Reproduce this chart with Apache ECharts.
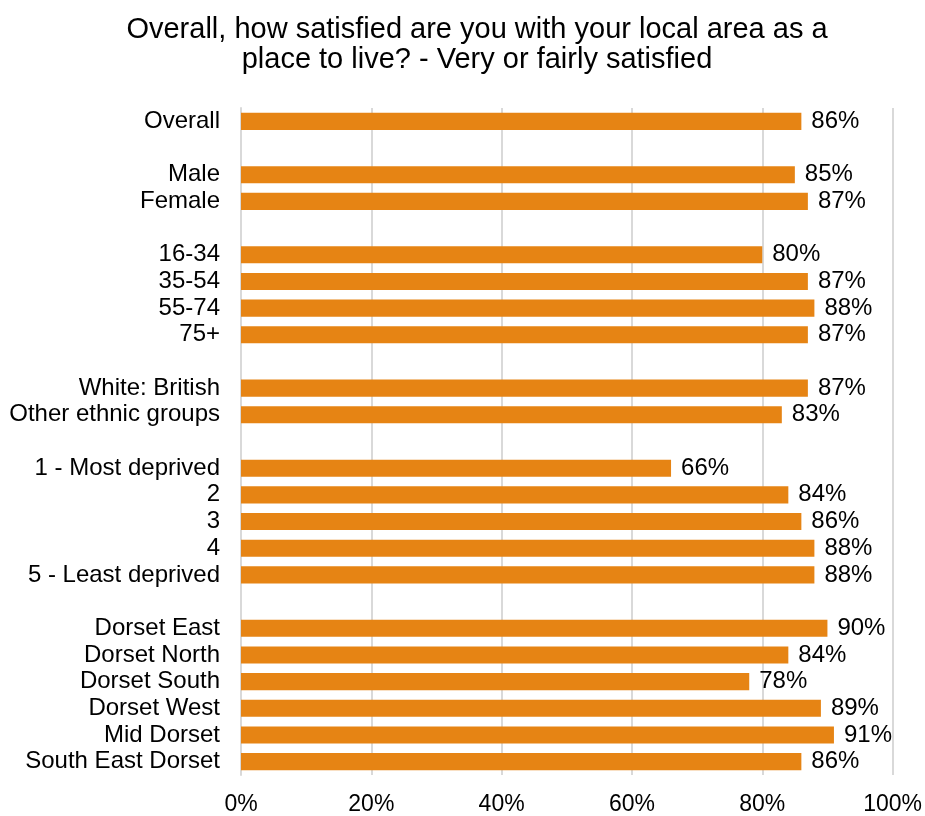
<!DOCTYPE html>
<html>
<head>
<meta charset="utf-8">
<script src="https://cdn.jsdelivr.net/npm/echarts@6/dist/echarts.min.js"></script>
<style>
  html, body { margin: 0; padding: 0; background: #fff; }
  #chart { width: 925px; height: 816px; }
</style>
</head>
<body>
<div id="chart"></div>
<script>
// Groups are separated by empty rows (blank label, no bar)
const categories = [
  'Overall', '',
  'Male', 'Female', '',
  '16-34', '35-54', '55-74', '75+', '',
  'White: British', 'Other ethnic groups', '',
  '1 - Most deprived', '2', '3', '4', '5 - Least deprived', '',
  'Dorset East', 'Dorset North', 'Dorset South', 'Dorset West', 'Mid Dorset', 'South East Dorset'
];
const satisfied = [
  86, null,
  85, 87, null,
  80, 87, 88, 87, null,
  87, 83, null,
  66, 84, 86, 88, 88, null,
  90, 84, 78, 89, 91, 86
];
const xTicks = { min: 0, max: 100, step: 20 };

const chart = echarts.init(document.getElementById('chart'));
const font = 'Liberation Sans, Arial, sans-serif';

chart.setOption({
  animation: false,
  title: {
    text: 'Overall, how satisfied are you with your local area as a\nplace to live? - Very or fairly satisfied',
    left: 472,
    top: 10,
    textAlign: 'center',
    textStyle: { fontFamily: font, fontSize: 29, fontWeight: 'normal', color: '#000', lineHeight: 30 }
  },
  grid: { left: 241, right: 32, top: 108, bottom: 40, containLabel: false },
  xAxis: {
    type: 'value',
    min: xTicks.min,
    max: xTicks.max,
    interval: xTicks.step,
    axisLine: { show: false },
    axisTick: { show: false },
    splitLine: { lineStyle: { color: '#d9d9d9', width: 2 } },
    axisLabel: { formatter: '{value}%', fontFamily: font, fontSize: 23, color: '#000', margin: 18 }
  },
  yAxis: {
    type: 'category',
    inverse: true,
    data: categories,
    axisLine: { show: true, lineStyle: { color: '#d9d9d9', width: 2 } },
    axisTick: { show: false },
    axisLabel: { fontFamily: font, fontSize: 24, color: '#000', margin: 21, interval: 0, padding: [3, 0, 0, 0] }
  },
  series: [{
    type: 'bar',
    data: satisfied,
    barCategoryGap: '36%',
    itemStyle: { color: '#e68414' },
    label: {
      show: true,
      position: 'right',
      distance: 10,
      formatter: p => (p.value == null ? '' : p.value + '%'),
      fontFamily: font,
      fontSize: 24,
      color: '#000',
      padding: [3, 0, 0, 0]
    }
  }]
});
</script>
</body>
</html>
